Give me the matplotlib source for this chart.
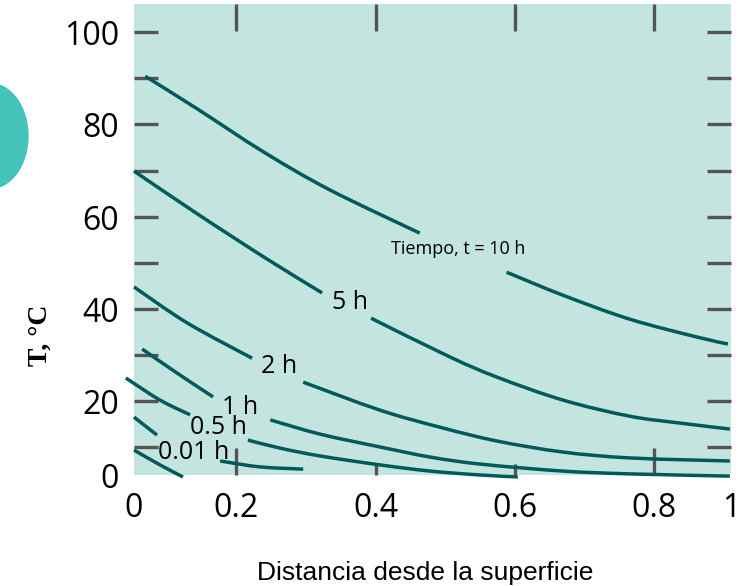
import numpy as np
import matplotlib.pyplot as plt
from matplotlib.patches import Ellipse, PathPatch
from matplotlib.path import Path

nan = np.nan

# curves: distance from surface vs temperature (gaps where the labels sit)
dist_10h = [0.022, 0.124, 0.239, 0.334, 0.463, nan, 0.588, 0.669, 0.765, 0.912, 0.992]
temp_10h = [90.4, 83.3, 74.1, 65.9, 56.5, nan, 48.0, 43.0, 37.8, 33.9, 32.4]

dist_5h = [0.0, 0.124, 0.244, 0.323, nan, 0.393, 0.506, 0.574, 0.669, 0.765, 0.868, 0.997]
temp_5h = [70.0, 60.7, 50.9, 43.5, nan, 38.0, 29.6, 25.2, 20.2, 16.7, 15.2, 13.9]

dist_2h = [0.0, 0.104, 0.223, nan, 0.296, 0.406, 0.492, 0.574, 0.669, 0.765, 0.997]
temp_2h = [44.8, 37.0, 29.3, nan, 24.1, 18.0, 14.3, 11.3, 8.2, 6.1, 5.0]

dist_1h = [0.016, 0.084, 0.155, nan, 0.249, 0.320, 0.406, 0.478, 0.550, 0.669, 0.765, 0.997]
temp_1h = [31.3, 26.1, 20.9, nan, 15.9, 12.8, 10.0, 6.4, 3.9, 1.4, 0.4, -0.4]

dist_05h = [-0.016, 0.051, 0.110, nan, 0.217, 0.263, 0.320, 0.406, 0.478, 0.550, 0.604]
temp_05h = [25.0, 20.2, 17.0, nan, 11.5, 9.6, 6.8, 3.6, 1.4, 0.0, -0.7]

dist_001h = [0.0, 0.045, nan, 0.169, 0.234, 0.296]
temp_001h = [16.5, 12.6, nan, 5.0, 2.9, 2.1]

dist_first = [0.0, 0.051, 0.096]
temp_first = [8.9, 3.6, -0.7]

labels = ['Tiempo, t = 10 h', '5 h', '2 h', '1 h', '0.5 h', '0.01 h']
label_x = [0.518, 0.363, 0.261, 0.206, 0.165, 0.116]
label_y = [53.0, 41.5, 27.4, 18.5, 14.3, 8.2]
label_size = [13, 18, 18, 18, 18, 18]

x_ticks = [0, 0.2, 0.4, 0.6, 0.8, 1]
x_ticklabels = ['0', '0.2', '0.4', '0.6', '0.8', '1']
y_ticks = [0, 20, 40, 60, 80, 100]
y_minor = [10, 30, 50, 70, 90]

# the printed axes are not evenly spaced, so map them piecewise
X_CAL = [-1, 0, 0.2, 0.4, 0.6, 0.8, 1, 2]
X_PIX = [-510, 0, 102, 242, 381, 520, 597, 982]
Y_CAL = [-10, 0, 10, 20, 30, 40, 50, 60, 70, 80, 90, 100, 200]
Y_PIX = [-28, 0, 28, 74, 120, 166, 212, 258, 304, 351, 397, 443, 903]


def fx(v): return np.interp(v, X_CAL, X_PIX)
def fx_inv(p): return np.interp(p, X_PIX, X_CAL)
def fy(v): return np.interp(v, Y_CAL, Y_PIX)
def fy_inv(p): return np.interp(p, Y_PIX, Y_CAL)


def smooth_path(xs, ys):
    # smooth curve through the read points (Catmull-Rom as cubic Beziers)
    xs = np.asarray(xs, float)
    ys = np.asarray(ys, float)
    gap = np.isnan(xs)
    verts, codes = [], []
    for seg in np.split(np.arange(len(xs)), np.where(gap)[0]):
        seg = seg[~gap[seg]]
        p = np.column_stack([fx(xs[seg]), fy(ys[seg])])
        n = len(p)
        verts.append(p[0])
        codes.append(Path.MOVETO)
        for i in range(n - 1):
            p0 = p[max(i - 1, 0)]
            p3 = p[min(i + 2, n - 1)]
            verts += [p[i] + (p[i + 1] - p0) / 6, p[i + 1] - (p3 - p[i]) / 6, p[i + 1]]
            codes += [Path.CURVE4] * 3
    v = np.array(verts)
    return Path(np.column_stack([fx_inv(v[:, 0]), fy_inv(v[:, 1])]), codes)


line_col = '#005a5b'
tick_col = '#545456'
bg = '#c4e5df'

fig = plt.figure(figsize=(7.44, 5.86), dpi=100)
ax = fig.add_axes([134 / 744, 111 / 586, 597 / 744, 471 / 586])
ax.set_facecolor(bg)
for s in ax.spines.values():
    s.set_visible(False)

ax.set_xscale('function', functions=(fx, fx_inv))
ax.set_yscale('function', functions=(fy, fy_inv))
ax.set_xlim(0, 1)
ax.set_ylim(0, 106.1)

curves = [(dist_10h, temp_10h), (dist_5h, temp_5h), (dist_2h, temp_2h),
          (dist_1h, temp_1h), (dist_05h, temp_05h), (dist_001h, temp_001h),
          (dist_first, temp_first)]
for xs, ys in curves:
    ax.add_patch(PathPatch(smooth_path(xs, ys), fill=False, edgecolor=line_col,
                           lw=2.5, capstyle='butt', clip_on=False, zorder=3))

for s, x, y, fs in zip(labels, label_x, label_y, label_size):
    ax.text(x, y, s, ha='center', va='center', fontsize=fs, family='Open Sans', zorder=4)

ax.set_xticks(x_ticks)
ax.set_xticklabels(x_ticklabels)
ax.set_yticks(y_ticks)
ax.set_yticks(y_minor, minor=True)
ax.tick_params(axis='x', which='major', direction='in', length=19.4, width=2.4,
               color=tick_col, top=True, bottom=True, labelsize=23, pad=12)
ax.tick_params(axis='y', which='both', direction='in', length=17.3, width=2.4,
               color=tick_col, left=True, right=True, labelleft=True,
               labelright=False, labelsize=23, pad=11)
xt = ax.xaxis.get_major_ticks()
for t in (xt[0], xt[-1], ax.yaxis.get_major_ticks()[0]):
    t.tick1line.set_visible(False)
    t.tick2line.set_visible(False)
# the bottom marks at 0.4 and 0.6 are short in the original
for t in (xt[2], xt[3]):
    t.tick1line.set_markersize(8)
for lab in ax.get_xticklabels() + ax.get_yticklabels():
    lab.set_family('Open Sans')

ax.set_xlabel('Distancia desde la superficie', family='Liberation Sans', fontsize=19)
ax.xaxis.set_label_coords(0.487, -0.183)
ax.set_ylabel('T, °C', family='Liberation Serif', weight='bold', fontsize=20)
ax.yaxis.set_label_coords(-0.137, 0.297)

# decorative blob peeking in at the left edge
fig.add_artist(Ellipse((-10 / 744, 450 / 586), 76 / 744, 105 / 586,
                       transform=fig.transFigure, color='#45c3bb', clip_on=False))

fig.savefig('out.png', dpi=100)
